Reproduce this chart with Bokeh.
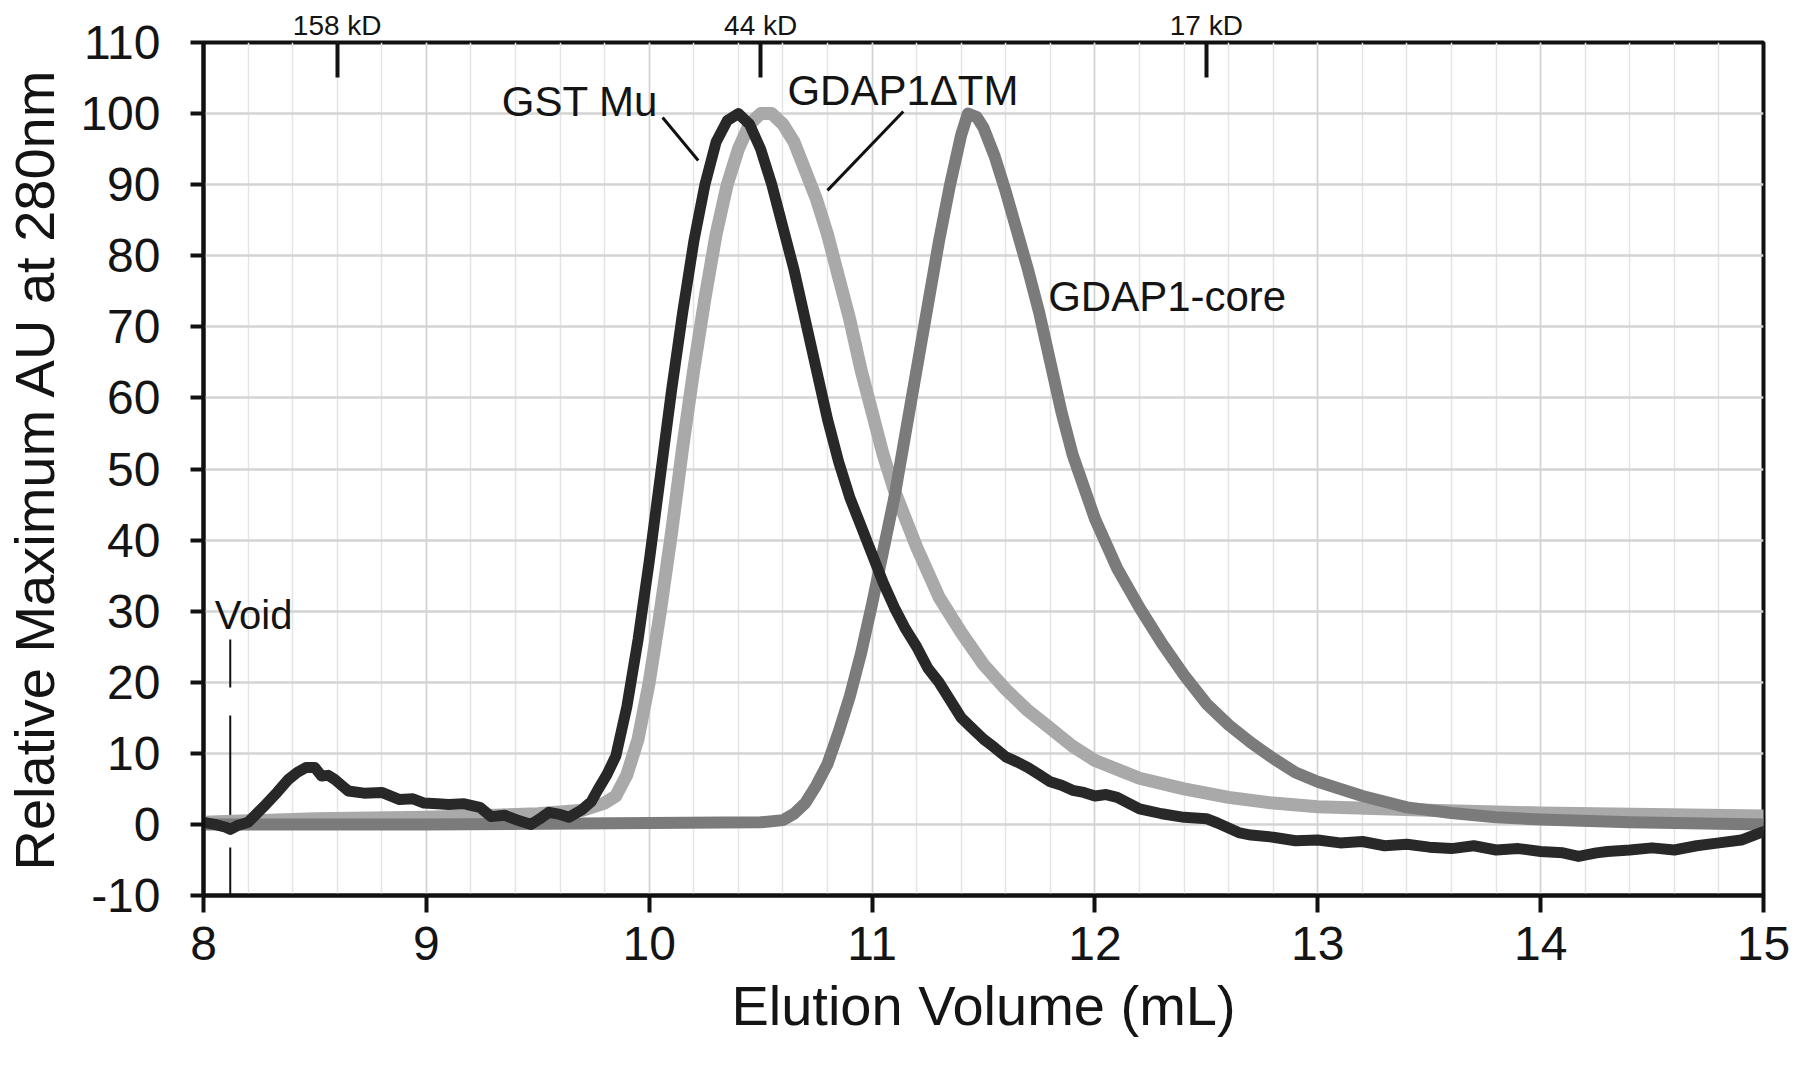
from bokeh.plotting import figure
from bokeh.models import Range1d, FixedTicker, LinearAxis, ColumnDataSource
from bokeh.core.properties import value
from bokeh.embed import file_html
from bokeh.resources import INLINE

# ---------------- data ----------------
gst_x = [8.00, 8.05, 8.10, 8.12, 8.15, 8.20, 8.27, 8.33, 8.38, 8.42, 8.46, 8.50, 8.53, 8.56, 8.59,
         8.62, 8.65, 8.72, 8.80, 8.88, 8.94, 8.99, 9.05, 9.10, 9.17, 9.24, 9.29, 9.35, 9.40, 9.47,
         9.51, 9.55, 9.60, 9.64, 9.70, 9.74, 9.77, 9.81, 9.85, 9.90, 9.95, 10.00, 10.05, 10.10,
         10.15, 10.20, 10.25, 10.30, 10.35, 10.40, 10.45, 10.50, 10.55, 10.60, 10.65, 10.70,
         10.75, 10.80, 10.85, 10.90, 10.95, 11.00, 11.05, 11.10, 11.15, 11.20, 11.25, 11.30,
         11.35, 11.40, 11.45, 11.50, 11.55, 11.60, 11.65, 11.70, 11.75, 11.80, 11.85, 11.90,
         11.95, 12.00, 12.05, 12.10, 12.15, 12.20, 12.30, 12.40, 12.50, 12.55, 12.60, 12.65,
         12.70, 12.80, 12.90, 13.00, 13.10, 13.20, 13.30, 13.40, 13.50, 13.60, 13.70, 13.80,
         13.90, 14.00, 14.10, 14.17, 14.25, 14.30, 14.40, 14.50, 14.60, 14.70, 14.80, 14.90, 15.00]
gst_y = [0.3, 0.0, -0.4, -0.7, -0.2, 0.3, 2.5, 4.5, 6.3, 7.3, 8.0, 8.0, 6.8, 6.9, 6.3,
         5.5, 4.7, 4.4, 4.5, 3.5, 3.6, 3.0, 2.9, 2.8, 2.9, 2.4, 1.1, 1.3, 0.7, 0.0,
         0.8, 1.7, 1.4, 1.0, 2.1, 3.2, 4.9, 7.0, 9.6, 16.6, 26.0, 37.0, 49.0, 61.0,
         72.0, 82.0, 90.0, 96.0, 99.0, 100.0, 98.5, 95.0, 90.0, 84.0, 78.0, 71.0,
         64.0, 57.0, 51.0, 46.0, 42.0, 38.0, 34.0, 30.5, 27.5, 25.0, 22.0, 20.0,
         17.5, 15.0, 13.5, 12.0, 10.8, 9.5, 8.8, 8.0, 7.0, 6.0, 5.5, 4.8,
         4.5, 4.0, 4.2, 3.8, 3.0, 2.2, 1.5, 1.0, 0.8, 0.2, -0.5, -1.2,
         -1.5, -1.8, -2.3, -2.2, -2.6, -2.4, -3.0, -2.8, -3.2, -3.4, -3.0, -3.6,
         -3.4, -3.8, -4.0, -4.5, -4.0, -3.8, -3.6, -3.3, -3.6, -3.0, -2.6, -2.2, -1.0]

dtm_x = [8.00, 8.50, 9.00, 9.50, 9.70, 9.80, 9.85, 9.90, 9.95, 10.00, 10.05, 10.10, 10.15,
         10.20, 10.25, 10.30, 10.35, 10.40, 10.45, 10.50, 10.55, 10.60, 10.65, 10.70, 10.75,
         10.80, 10.85, 10.90, 10.95, 11.00, 11.05, 11.10, 11.20, 11.30, 11.40, 11.50, 11.60,
         11.70, 11.80, 11.90, 12.00, 12.20, 12.40, 12.60, 12.80, 13.00, 13.50, 14.00, 14.50, 15.00]
dtm_y = [0.3, 0.8, 1.0, 1.5, 2.0, 3.0, 4.0, 7.0, 12.0, 20.0, 30.0, 41.0, 53.0,
         64.0, 74.0, 83.0, 90.0, 95.0, 98.5, 100.0, 100.0, 98.5, 96.0, 92.0, 88.0,
         83.0, 77.0, 71.0, 64.0, 58.0, 52.0, 47.0, 39.0, 32.0, 27.0, 22.5, 19.0,
         16.0, 13.5, 11.0, 9.0, 6.5, 5.0, 3.8, 3.0, 2.5, 2.0, 1.6, 1.4, 1.2]

core_x = [8.00, 9.00, 10.00, 10.50, 10.60, 10.65, 10.70, 10.75, 10.80, 10.85, 10.90, 10.95,
          11.00, 11.05, 11.10, 11.15, 11.20, 11.25, 11.30, 11.35, 11.40, 11.43, 11.47, 11.50,
          11.55, 11.60, 11.65, 11.70, 11.75, 11.80, 11.85, 11.90, 12.00, 12.10, 12.20, 12.30,
          12.40, 12.50, 12.60, 12.70, 12.80, 12.90, 13.00, 13.20, 13.40, 13.60, 13.80, 14.00,
          14.40, 15.00]
core_y = [0.0, 0.0, 0.2, 0.3, 0.6, 1.5, 3.0, 5.5, 8.5, 13.0, 18.0, 24.0,
          31.0, 38.5, 46.0, 55.0, 64.0, 73.0, 82.0, 90.0, 97.0, 100.0, 99.5, 98.0,
          94.0, 89.0, 83.5, 78.0, 72.0, 65.0, 58.0, 52.0, 43.0, 36.0, 30.5, 25.5,
          21.0, 17.0, 14.0, 11.5, 9.3, 7.3, 6.0, 4.0, 2.4, 1.6, 1.0, 0.7,
          0.3, 0.0]

x_ticks = [8, 9, 10, 11, 12, 13, 14, 15]
y_ticks = [-10, 0, 10, 20, 30, 40, 50, 60, 70, 80, 90, 100, 110]
y_tick_labels = [str(t) for t in y_ticks]
mw_positions = [8.6, 10.5, 12.5]
mw_labels = ["158 kD", "44 kD", "17 kD"]
void_volume = 8.12

# ---------------- figure ----------------
FONT = "Liberation Sans"
TXT = "#141414"

p = figure(frame_width=1560, frame_height=853,
           x_range=Range1d(8, 15), y_range=Range1d(-10, 110),
           output_backend="svg", toolbar_location=None,
           min_border_left=199, min_border_top=42, min_border_right=30, min_border_bottom=150)
p.background_fill_color = "white"
p.border_fill_color = "white"
p.outline_line_color = "#111111"
p.outline_line_width = 4

minor_x = [round(8 + 0.2 * i, 2) for i in range(36)]
p.xaxis.ticker = FixedTicker(ticks=x_ticks, minor_ticks=minor_x)
p.yaxis.ticker = FixedTicker(ticks=y_ticks)
p.yaxis.major_label_overrides = {t: s for t, s in zip(y_ticks, y_tick_labels)}

for ax in (p.xaxis[0], p.yaxis[0]):
    ax.axis_line_color = "#111111"
    ax.axis_line_width = 4
    ax.major_tick_line_color = "#111111"
    ax.major_tick_line_width = 4
    ax.major_tick_in = 0
    ax.minor_tick_line_color = None
    ax.major_label_text_font = FONT
    ax.major_label_text_font_size = "48px"
    ax.major_label_text_color = TXT
    ax.axis_label_text_font = FONT
    ax.axis_label_text_font_size = "56px"
    ax.axis_label_text_font_style = "normal"
    ax.axis_label_text_color = TXT

p.xaxis.axis_label = "Elution Volume (mL)"
p.xaxis.major_tick_out = 17
p.xaxis.major_label_standoff = 14
p.xaxis.axis_label_standoff = 11

p.yaxis.axis_label = "Relative Maximum AU at 280nm"
p.yaxis.major_tick_out = 13
p.yaxis.major_label_standoff = 30
p.yaxis.axis_label_standoff = 11

p.xgrid.grid_line_color = "#d2d2d2"
p.xgrid.grid_line_width = 1.5
p.xgrid.minor_grid_line_color = "#e4e4e4"
p.xgrid.minor_grid_line_width = 1.5
p.ygrid.grid_line_color = "#d4d4d4"
p.ygrid.grid_line_width = 2.5

# molecular-weight marker axis on top
top = LinearAxis(ticker=FixedTicker(ticks=mw_positions),
                 major_label_overrides={k: v for k, v in zip(mw_positions, mw_labels)})
top.axis_line_color = None
top.major_tick_in = 35
top.major_tick_out = 0
top.major_tick_line_width = 4
top.major_tick_line_color = "#111111"
top.minor_tick_line_color = None
top.major_label_standoff = 2
top.major_label_text_font = FONT
top.major_label_text_font_size = "28px"
top.major_label_text_color = TXT
p.add_layout(top, "above")

# void marker
p.line([void_volume, void_volume], [-10, 26], line_color="#111111", line_width=2,
       line_dash="48 28 104 28")

# curves
p.line(dtm_x, dtm_y, line_color="#a9a9a9", line_width=13, line_join="round", line_cap="round")
p.line(core_x, core_y, line_color="#7b7b7b", line_width=12, line_join="round", line_cap="round")
p.line(gst_x, gst_y, line_color="#282828", line_width=11, line_join="round", line_cap="round")

# annotation leaders
p.segment(x0=[10.06, 11.14], y0=[99.45, 100.3], x1=[10.22, 10.80], y1=[93.4, 89.2],
          line_color="#111111", line_width=3)

# annotation labels
lab = ColumnDataSource(dict(x=[10.04, 10.62, 11.79], y=[101.7, 103.2, 74.3],
                            t=["GST Mu", "GDAP1\u0394TM", "GDAP1-core"],
                            a=["right", "left", "left"]))
p.text(x="x", y="y", text="t", text_align="a", source=lab, text_baseline="alphabetic",
       text_font=value(FONT), text_font_size=value("42px"), text_color=TXT)
p.text(x=[8.05], y=[29.4], text=["Void"], text_baseline="alphabetic",
       text_font=value(FONT), text_font_size=value("40px"), text_color=TXT)

open("out.html", "w").write(file_html(p, INLINE))
